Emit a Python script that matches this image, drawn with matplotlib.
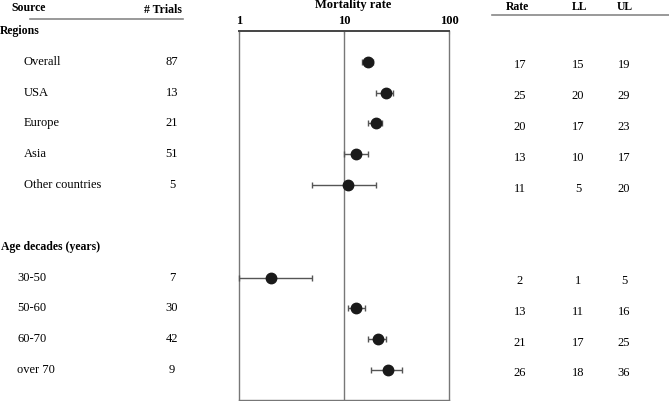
import matplotlib.pyplot as plt
from matplotlib.transforms import blended_transform_factory

plt.rcParams['font.family'] = ['Liberation Serif', 'DejaVu Serif']

regions = ["Overall", "USA", "Europe", "Asia", "Other countries"]
region_trials = [87, 13, 21, 51, 5]
region_rate = [17, 25, 20, 13, 11]
region_ll = [15, 20, 17, 10, 5]
region_ul = [19, 29, 23, 17, 20]

ages = ["30-50", "50-60", "60-70", "over 70"]
age_trials = [7, 30, 42, 9]
age_rate = [2, 13, 21, 26]
age_ll = [1, 11, 17, 18]
age_ul = [5, 16, 25, 36]

W, H = 669, 401
fig = plt.figure(figsize=(W / 100, H / 100), dpi=100)
ax = fig.add_axes([239 / W, 1 / H, 210 / W, 369 / H])

# row layout: 0 = Regions header, 1..5 regions, 7 = age header, 8..11 ages
region_rows = list(range(1, 1 + len(regions)))
age_rows = list(range(8, 8 + len(ages)))

def draw_group(rows, rate, ll, ul):
    lo = [r - l for r, l in zip(rate, ll)]
    hi = [u - r for r, u in zip(rate, ul)]
    ax.errorbar(rate, rows, xerr=[lo, hi], fmt='o', color='#1a1a1a', ms=7.5,
                ecolor='#555555', elinewidth=1, capsize=2.5, capthick=1, clip_on=False, zorder=3)

draw_group(region_rows, region_rate, region_ll, region_ul)
draw_group(age_rows, age_rate, age_ll, age_ul)

ax.set_xscale('log')
ax.set_xlim(1, 100)
ax.set_ylim(11.97, 0)
ax.set_yticks([])
ax.xaxis.tick_top()
ax.set_xticks([1, 10, 100])
ax.set_xticklabels(['1', '10', '100'], fontweight='bold', fontsize=9)
ax.minorticks_off()
ax.tick_params(axis='x', direction='in', length=2, pad=3, color='#555555')
ax.axvline(10, color='#777777', lw=1)
for s in ['left', 'right', 'bottom']:
    ax.spines[s].set_color('#777777')
    ax.spines[s].set_linewidth(1)
ax.spines['top'].set_linewidth(1.4)
ax.spines['top'].set_color('#444444')

trans = blended_transform_factory(fig.transFigure, ax.transData)

def px(x):
    return x / W

def put(x, y, s, size=9, **kw):
    ax.text(px(x), y, s, transform=trans, va='center', clip_on=False, fontsize=size, **kw)

# headers
fig.text(px(29), 1 - 8 / H, 'Source', ha='center', va='center', fontsize=8.5, fontweight='bold')
fig.text(px(182), 1 - 10 / H, '# Trials', ha='right', va='center', fontsize=8.5, fontweight='bold')
fig.text(px(353), 1 - 5 / H, 'Mortality rate', ha='center', va='center', fontsize=9, fontweight='bold')
fig.text(px(517), 1 - 7 / H, 'Rate', ha='center', va='center', fontsize=8.5, fontweight='bold')
fig.text(px(580), 1 - 7 / H, 'LL', ha='center', va='center', fontsize=8.5, fontweight='bold')
fig.text(px(625), 1 - 7 / H, 'UL', ha='center', va='center', fontsize=8.5, fontweight='bold')
fig.add_artist(plt.Line2D([px(30), px(183)], [1 - 19 / H] * 2, color='#888888', lw=1.2))
fig.add_artist(plt.Line2D([px(492), px(669)], [1 - 15 / H] * 2, color='#888888', lw=1.2))

put(0, 0, 'Regions', size=8.5, fontweight='bold')
put(1, 7, 'Age decades (years)', size=8.5, fontweight='bold')

off = 0.11
for row, name, n, r, l, u in zip(region_rows, regions, region_trials, region_rate, region_ll, region_ul):
    put(24, row, name)
    put(172, row, str(n), ha='center')
    put(520, row + off, str(r), ha='center')
    put(578, row + off, str(l), ha='center')
    put(624, row + off, str(u), ha='center')

for row, name, n, r, l, u in zip(age_rows, ages, age_trials, age_rate, age_ll, age_ul):
    put(17, row, name)
    put(172, row, str(n), ha='center')
    put(520, row + off, str(r), ha='center')
    put(578, row + off, str(l), ha='center')
    put(624, row + off, str(u), ha='center')

fig.savefig('out.png', dpi=100)
